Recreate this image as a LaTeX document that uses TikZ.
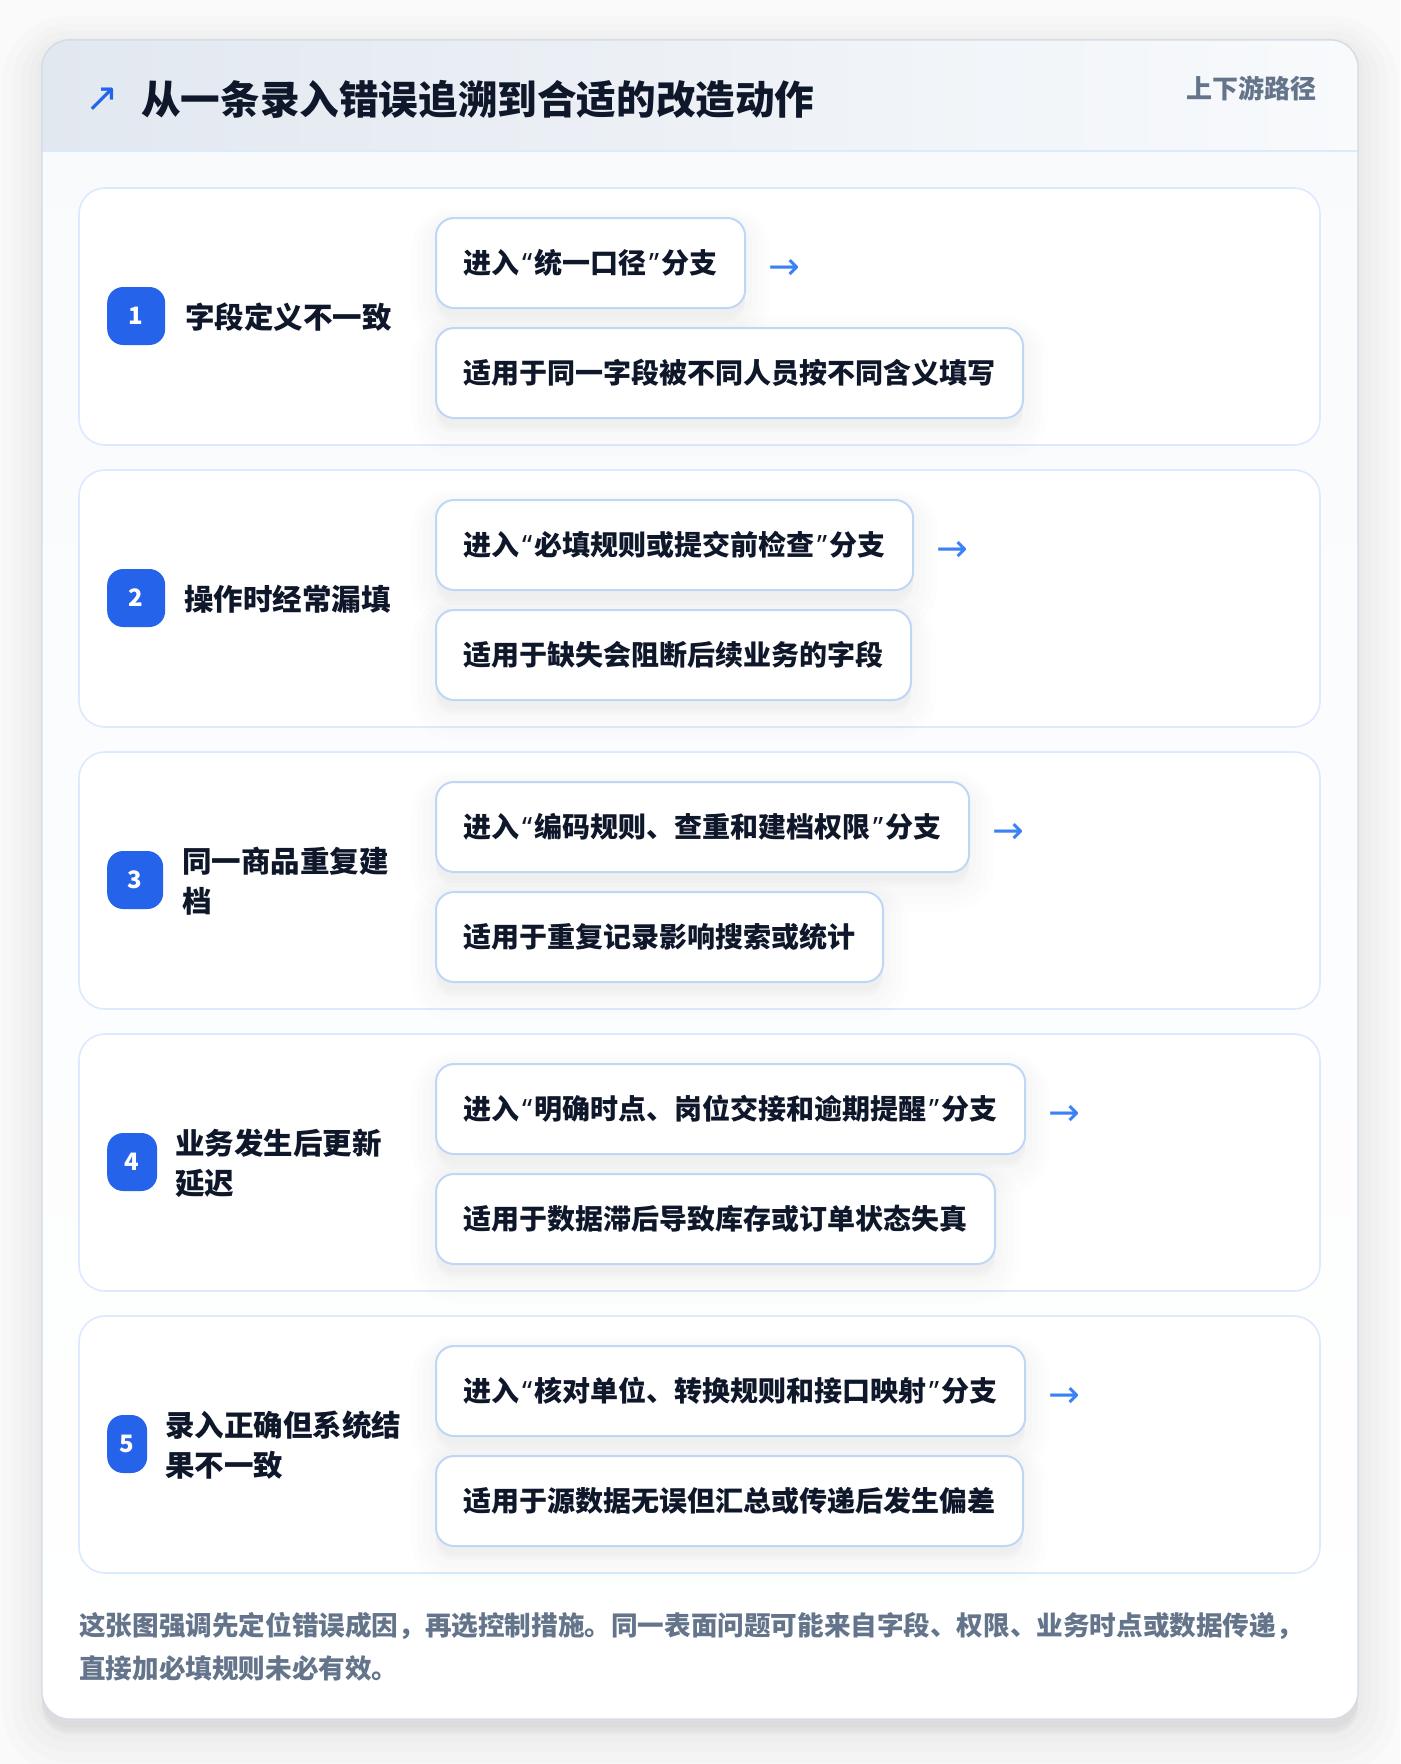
\documentclass[tikz,border=0pt]{standalone}
\usepackage{fontspec}
\setmainfont{Noto Sans CJK SC}
\newfontfamily\symfont{DejaVu Sans}
\newfontfamily\latinq{Noto Sans}
\newcommand\qL{{\kern2.5pt\latinq “\kern2.5pt}}
\newcommand\qR{{\kern2.5pt\latinq ”\kern2.5pt}}
\definecolor{pagebg}{HTML}{FAFAFB}
\definecolor{cardtop}{HTML}{F8FAFC}
\definecolor{cardline}{HTML}{D5DCE6}
\definecolor{hdrL}{HTML}{E2E8F0}
\definecolor{hdrR}{HTML}{F8FAFC}
\definecolor{hdrline}{HTML}{DBEAFE}
\definecolor{rowline}{HTML}{DBEAFE}
\definecolor{boxline}{HTML}{BFD6F6}
\definecolor{badgec}{HTML}{2563EB}
\definecolor{ink}{HTML}{0F172A}
\definecolor{muted}{HTML}{64748B}
\definecolor{arrowc}{HTML}{3B82F6}
\tikzset{
  softshadow/.style n args={3}{preaction={draw=black, draw opacity=#3, line width=#1, fill=black, fill opacity=#3, transform canvas={yshift=#2}}},
  panel/.style={rounded corners=28pt, minimum width=1316pt, minimum height=1679pt, inner sep=0pt,
    softshadow={80pt}{-16pt}{0.011}, softshadow={60pt}{-14pt}{0.011}, softshadow={42pt}{-12pt}{0.011}, softshadow={26pt}{-10pt}{0.011}, softshadow={12pt}{-8pt}{0.011}},
  rowcard/.style={draw=rowline, line width=1.6pt, fill=white, rounded corners=26pt, minimum width=1241pt, minimum height=257pt, inner sep=0pt},
  numbadge/.style={fill=badgec, rounded corners=16pt, minimum height=58pt, inner sep=0pt, text=white, font=\bfseries\fontsize{24}{28}\selectfont},
  rowlabel/.style={anchor=west, inner sep=0pt, align=left, text=ink, font=\bfseries\fontsize{29.5}{40}\selectfont},
  stepbox/.style={anchor=north west, draw=boxline, line width=2pt, fill=white, rounded corners=18pt, minimum height=90pt, inner xsep=27.5pt, inner ysep=0pt, text=ink, font=\bfseries\fontsize{28}{32}\selectfont,
    softshadow={50pt}{-14pt}{0.009}, softshadow={38pt}{-12pt}{0.009}, softshadow={26pt}{-10pt}{0.009}, softshadow={14pt}{-8pt}{0.006}},
  nextarrow/.style={anchor=west, inner sep=0pt, text=arrowc, font=\symfont\fontsize{38}{40}\selectfont},
}
\newcommand\mkrow[7]{%
  \node[rowcard] (card#1) at (699.5,{316.5+#2}) {};
  \node[numbadge, minimum width=#3pt, anchor=west] (badge#1) at (107,{316+#2}) {#1};
  \node[rowlabel] (label#1) at (#4,{317+#2}) {#5};
  \node[stepbox] (top#1) at (435,{217+#2}) {#6};
  \node[stepbox] (bot#1) at (435,{327+#2}) {#7};
  \node[nextarrow] (arr#1) at ([xshift=22pt,yshift=-6pt]top#1.east) {→};
}
\begin{document}
\begin{tikzpicture}[x=1pt,y=-1pt]
\useasboundingbox (0,0) rectangle (1400,1764);
\fill[pagebg] (0,0) rectangle (1400,1764);
\node[panel] (panel) at (700,879.5) {};
\shade[top color=cardtop, bottom color=white, rounded corners=28pt] (panel.north west) rectangle (panel.south east);
\shade[left color=hdrL, right color=hdrR] (42,151) [rounded corners=28pt] -- (42,40) -- (1358,40) [sharp corners] -- (1358,151) -- cycle;
\draw[hdrline, line width=2pt] (42,151) -- (1358,151);
\draw[cardline, line width=1.5pt, rounded corners=28pt] (panel.north west) rectangle (panel.south east);
\node[inner sep=0pt, text=badgec, font=\symfont\fontsize{40}{42}\selectfont] (icon) at (102,100) {↗};
\node[anchor=west, inner sep=0pt, text=ink, font=\bfseries\fontsize{39.6}{44}\selectfont] (title) at (141,99) {从一条录入错误追溯到合适的改造动作};
\node[anchor=east, inner sep=0pt, text=muted, font=\bfseries\fontsize{26}{30}\selectfont] (tag) at (1317,88) {上下游路径};
\mkrow{1}{0}{58}{185}{字段定义不一致}{进入\qL 统一口径\qR 分支}{适用于同一字段被不同人员按不同含义填写}
\mkrow{2}{282}{58}{184}{操作时经常漏填}{进入\qL 必填规则或提交前检查\qR 分支}{适用于缺失会阻断后续业务的字段}
\mkrow{3}{564}{56}{182}{同一商品重复建\\档}{进入\qL 编码规则、查重和建档权限\qR 分支}{适用于重复记录影响搜索或统计}
\mkrow{4}{846}{50}{175}{业务发生后更新\\延迟}{进入\qL 明确时点、岗位交接和逾期提醒\qR 分支}{适用于数据滞后导致库存或订单状态失真}
\mkrow{5}{1128}{40}{165}{录入正确但系统结\\果不一致}{进入\qL 核对单位、转换规则和接口映射\qR 分支}{适用于源数据无误但汇总或传递后发生偏差}
\node[anchor=west, inner sep=0pt, align=left, text=muted, font=\bfseries\fontsize{26.6}{43}\selectfont] (note) at (79,1646.5) {这张图强调先定位错误成因，再选控制措施。同一表面问题可能来自字段、权限、业务时点或数据传递，\\直接加必填规则未必有效。};
\end{tikzpicture}
\end{document}
